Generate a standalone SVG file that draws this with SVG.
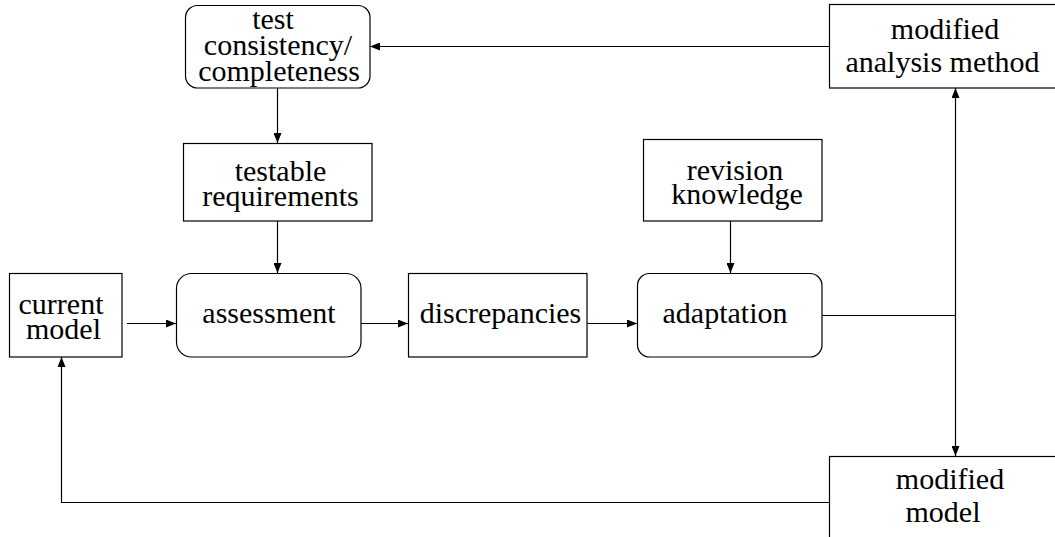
<svg xmlns="http://www.w3.org/2000/svg" width="1055" height="537" viewBox="0 0 1055 537">
  <style>
    .box { fill: #ffffff; stroke: #000000; stroke-width: 1.2; }
    .lbl { font-family: "Liberation Serif", "Times New Roman", serif; font-size: 30px; fill: #000000; text-anchor: middle; }
    .wire { fill: none; stroke: #000000; stroke-width: 1.2; }
    .arr { marker-end: url(#head); }
  </style>
  <defs>
    <marker id="head" viewBox="0 0 10 8" refX="10" refY="4" markerWidth="10" markerHeight="8" markerUnits="userSpaceOnUse" orient="auto">
      <path d="M0,0 L10,4 L0,8 Z" fill="#000000"/>
    </marker>
  </defs>

  <rect width="1055" height="537" fill="#ffffff"/>

  <!-- connectors -->
  <g id="connectors">
    <line class="wire arr" x1="829" y1="46.5" x2="370" y2="46.5"/>
    <line class="wire arr" x1="277.5" y1="88" x2="277.5" y2="143"/>
    <line class="wire arr" x1="277.5" y1="221" x2="277.5" y2="273"/>
    <line class="wire arr" x1="730.5" y1="221" x2="730.5" y2="273"/>
    <line class="wire arr" x1="127" y1="323.5" x2="176" y2="323.5"/>
    <line class="wire arr" x1="361" y1="323.5" x2="408" y2="323.5"/>
    <line class="wire arr" x1="587" y1="323.5" x2="637" y2="323.5"/>
    <line class="wire" x1="822" y1="315.5" x2="955.5" y2="315.5"/>
    <line class="wire arr" x1="955.5" y1="315" x2="955.5" y2="88"/>
    <line class="wire arr" x1="955.5" y1="315" x2="955.5" y2="456"/>
    <polyline class="wire arr" points="829,502.5 61.5,502.5 61.5,357"/>
  </g>

  <!-- nodes -->
  <g id="test-consistency">
    <rect class="box" x="185.5" y="5.5" width="184.5" height="82.5" rx="12" ry="12"/>
    <text class="lbl" x="273" y="29">test</text>
    <text class="lbl" x="278" y="55">consistency/</text>
    <text class="lbl" x="279" y="81">completeness</text>
  </g>

  <g id="modified-analysis-method">
    <rect class="box" x="829.5" y="4.5" width="240" height="83.5"/>
    <text class="lbl" x="945" y="39">modified</text>
    <text class="lbl" x="942.5" y="72">analysis method</text>
  </g>

  <g id="testable-requirements">
    <rect class="box" x="183.5" y="143.5" width="188.5" height="77.5"/>
    <text class="lbl" x="280.5" y="181">testable</text>
    <text class="lbl" x="280.5" y="206">requirements</text>
  </g>

  <g id="revision-knowledge">
    <rect class="box" x="643.5" y="139.5" width="178.5" height="81.5"/>
    <text class="lbl" x="735" y="180">revision</text>
    <text class="lbl" x="737" y="204">knowledge</text>
  </g>

  <g id="current-model">
    <rect class="box" x="9.5" y="273.5" width="112.5" height="83.5"/>
    <text class="lbl" x="61" y="314">current</text>
    <text class="lbl" x="63.5" y="339">model</text>
  </g>

  <g id="assessment">
    <rect class="box" x="176.5" y="273.5" width="184.5" height="83.5" rx="15" ry="15"/>
    <text class="lbl" x="269" y="323">assessment</text>
  </g>

  <g id="discrepancies">
    <rect class="box" x="408.5" y="273.5" width="178.5" height="83.5"/>
    <text class="lbl" x="500.5" y="323">discrepancies</text>
  </g>

  <g id="adaptation">
    <rect class="box" x="637.5" y="273.5" width="184.5" height="83.5" rx="12" ry="12"/>
    <text class="lbl" x="725" y="323">adaptation</text>
  </g>

  <g id="modified-model">
    <rect class="box" x="829.5" y="456.5" width="240" height="100"/>
    <text class="lbl" x="950" y="489">modified</text>
    <text class="lbl" x="943" y="522">model</text>
  </g>
</svg>
